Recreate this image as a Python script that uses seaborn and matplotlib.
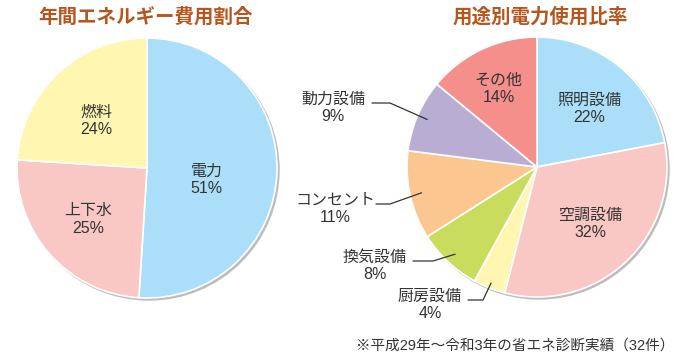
import numpy as np
import matplotlib
matplotlib.use("Agg")
import matplotlib.pyplot as plt
import seaborn as sns
from matplotlib.patches import Circle

# Data
cost_labels = ["電力", "上下水", "燃料"]
cost_values = [51, 25, 24]
use_labels = ["照明設備", "空調設備", "厨房設備", "換気設備", "コンセント", "動力設備", "その他"]
use_values = [22, 32, 4, 8, 11, 9, 14]

cost_colors = sns.color_palette(["#abdff9", "#f9c8c5", "#fff6b1"])
use_colors = sns.color_palette(["#abdff9", "#f9c8c5", "#fff6b1", "#c9dc5d",
                                "#fcc690", "#b9add4", "#f48f8b"])

sns.set_theme(style="white")
plt.rcParams["font.family"] = ["Liberation Sans", "Noto Sans CJK JP", "DejaVu Sans"]
cjk = ["Noto Sans CJK JP", "DejaVu Sans"]

W, H = 686, 363
fig = plt.figure(figsize=(W / 100, H / 100), dpi=100)
ax = fig.add_axes([0, 0, 1, 1])

R = 130
title_color = "#b5561e"
text_color = "#333333"


def draw_pie(values, colors, center):
    # soft shadow behind the pie
    ax.add_patch(Circle((center[0] + 2, center[1] - 2), R, color="#bdbdbd", zorder=1))
    wedges, _ = ax.pie(values, colors=colors, center=center, radius=R,
                       startangle=90, counterclock=False,
                       wedgeprops=dict(edgecolor="white", linewidth=1.2))
    for w in wedges:
        w.set_zorder(2)
    return wedges


def mid_xy(wedge, center, frac):
    ang = np.deg2rad((wedge.theta1 + wedge.theta2) / 2)
    return center[0] + frac * R * np.cos(ang), center[1] + frac * R * np.sin(ang)


def label(x, y, txt, **kw):
    ax.text(x, y, txt, ha="center", va="center", fontsize=11.5,
            color=text_color, linespacing=1.2, zorder=3, **kw)


# Left pie (label frac along mid-angle, then small vertical nudge in px)
c1 = (147, H - 168)
w1 = draw_pie(cost_values, cost_colors, c1)
for w, lab, v, f, dy in zip(w1, cost_labels, cost_values, [0.46, 0.6, 0.57], [-10, 0, -7]):
    x, y = mid_xy(w, c1, f)
    label(x, y + dy, f"{lab}\n{v}%")

# Right pie
c2 = (537, H - 167)
w2 = draw_pie(use_values, use_colors, c2)
inside = {0: (0.63, -5), 1: (0.6, 0), 6: (0.69, -3)}
for i, (f, dy) in inside.items():
    x, y = mid_xy(w2[i], c2, f)
    label(x, y + dy, f"{use_labels[i]}\n{use_values[i]}%")

# outside labels with leader lines: (text x, text y, line start x, elbow x, wedge frac)
outside = {
    5: (333, 108, 372, 390, 0.92),
    4: (335, 209, 376, 390, 0.91),
    3: (375, 266, 413, 433, 0.92),
    2: (430, 305, 468, 483, 0.96),
}
for i, (tx, ty, lx, ex, f) in outside.items():
    label(tx, H - ty, f"{use_labels[i]}\n{use_values[i]}%")
    px, py = mid_xy(w2[i], c2, f)
    ly = H - ty + 5
    ax.plot([lx, ex, px], [ly, ly, py], color="#333333", lw=0.9, zorder=3)

# Titles
ax.text(146, H - 17, "年間エネルギー費用割合", ha="center", va="center", family=cjk,
        fontsize=14, fontweight="bold", color=title_color)
ax.text(540, H - 17, "用途別電力使用比率", ha="center", va="center", family=cjk,
        fontsize=14, fontweight="bold", color=title_color)

# Footnote
ax.text(674, H - 346, "※平成29年～令和3年の省エネ診断実績（32件）", ha="right", va="center",
        fontsize=10.5, color=text_color)

# pie() resets the view, so fix the pixel frame last
ax.set_xlim(0, W)
ax.set_ylim(0, H)
ax.set_aspect("equal")
ax.axis("off")

fig.savefig("out.png", dpi=100)
